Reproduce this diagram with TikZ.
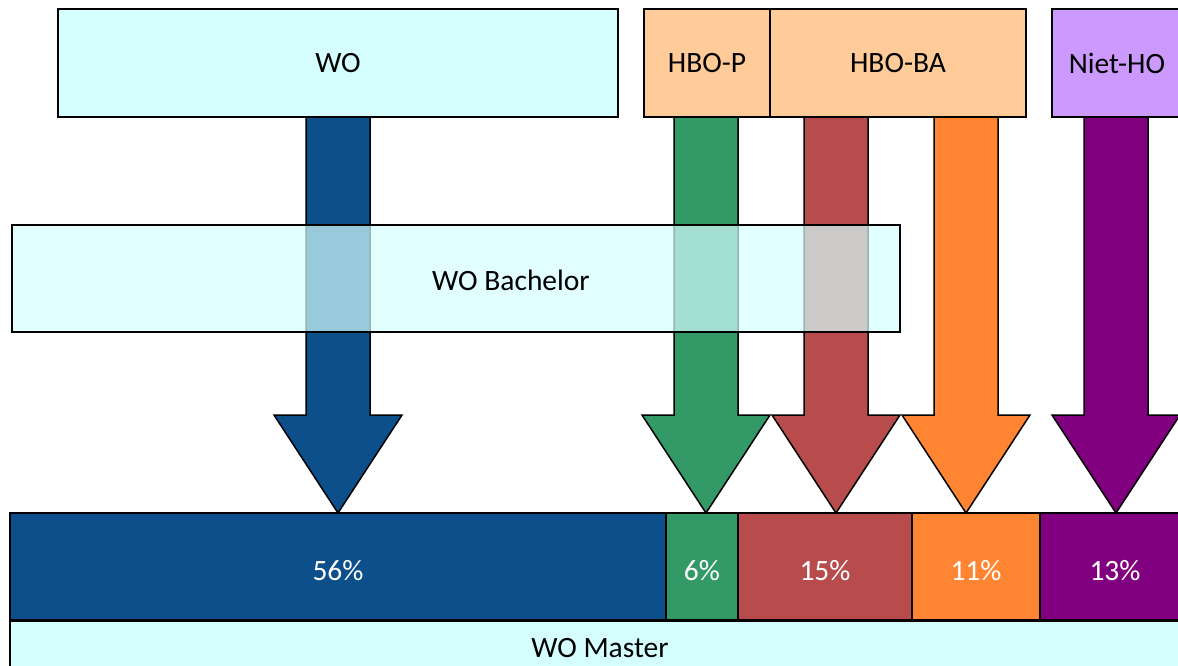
\documentclass[tikz,border=0pt]{standalone}
\usepackage{fontspec}
\setmainfont{Carlito}
\usepackage{tikz}
\usetikzlibrary{calc}
\definecolor{lightcyan}{RGB}{213,255,255}
\definecolor{peach}{RGB}{255,204,153}
\definecolor{lavender}{RGB}{204,153,255}
\definecolor{woblue}{RGB}{13,79,139}
\definecolor{hbogreen}{RGB}{51,153,102}
\definecolor{hbored}{RGB}{184,76,77}
\definecolor{hboorange}{RGB}{255,133,50}
\definecolor{nietpurple}{RGB}{128,0,128}
\tikzstyle{topbox}=[rectangle,draw,line width=2pt,minimum height=108pt,inner sep=0pt]
\tikzstyle{barbox}=[rectangle,draw,line width=2pt,minimum height=107pt,inner sep=0pt,text=white,text height=28pt,text depth=0pt]
\tikzstyle{bigarrow}=[draw,line width=1.5pt]
\tikzstyle{txt}=[font=\fontsize{29.5}{34}\selectfont]

\begin{document}
\begin{tikzpicture}[x=1pt,y=-1pt,txt]

   \useasboundingbox (0,0) rectangle (1178,666);
   \clip (0,0) rectangle (1178,666);

    % block arrows from the top boxes down to the bar
    \foreach \cx/\col in {338/woblue,706/hbogreen,836/hbored,966/hboorange,1116/nietpurple}
        \draw[bigarrow,fill=\col] ({\cx-32},117) -- ({\cx-32},415) -- ({\cx-64},415) -- (\cx,513)
              -- ({\cx+64},415) -- ({\cx+32},415) -- ({\cx+32},117);

    % origins
    \foreach \pos/ \name / \boxw / \col / \label in {{(338,63)/wo/560/lightcyan/WO},
                                           {(707,63)/hbop/126/peach/HBO-P},
                                           {(898,63)/hboba/256/peach/HBO-BA},
                                           {(1117,63)/niet/130/lavender/Niet-HO}}
        \node[topbox,fill=\col,minimum width=\boxw pt] (\name) at \pos {\label};

    % shares in the master
    \foreach \pos/ \name / \boxw / \col / \label in {{(338,566.5)/pwo/656/woblue/56\%},
                                           {(702,566.5)/phbop/72/hbogreen/6\%},
                                           {(825,566.5)/phboba/174/hbored/15\%},
                                           {(976,566.5)/phboo/128/hboorange/11\%},
                                           {(1115,566.5)/pniet/150/nietpurple/13\%}}
        \node[barbox,fill=\col,minimum width=\boxw pt] (\name) at \pos {\label};

    \node[topbox,fill=lightcyan,minimum width=1180pt,minimum height=56pt,anchor=north] (master) at (600,620) {};
    \node (masterlabel) at (600,648) {WO Master};

    % bachelor box lies over the arrows
    \node[topbox,fill=lightcyan,fill opacity=0.7,minimum width=888pt,minimum height=107pt] (bachelor) at (456,278.5) {};
    \node (bachelorlabel) at (511,280) {WO Bachelor};

\end{tikzpicture}
\end{document}
